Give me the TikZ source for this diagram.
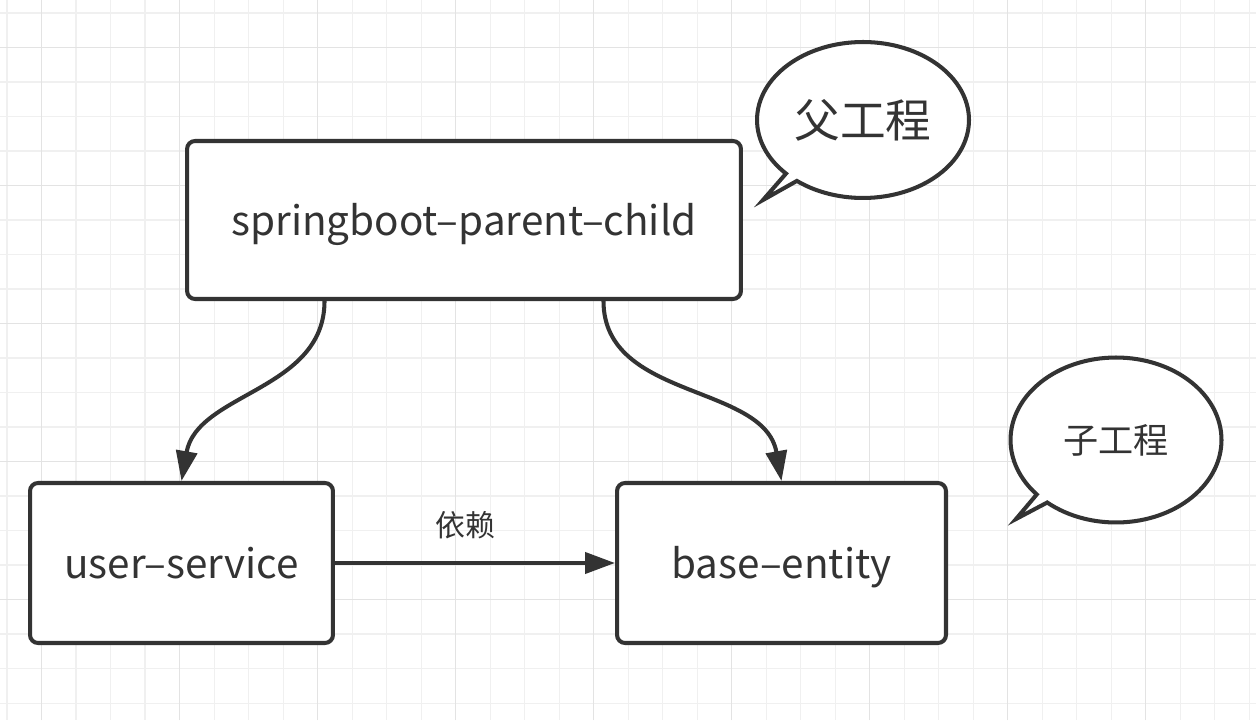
\documentclass[tikz,border=0pt]{standalone}
\usepackage{fontspec}
\setmainfont{Noto Sans CJK SC}
\usetikzlibrary{arrows.meta,shapes.callouts,calc}
\definecolor{ink}{HTML}{333333}
\definecolor{gridminor}{HTML}{F0F0F0}
\definecolor{gridmajor}{HTML}{E3E3E3}

\begin{document}
\begin{tikzpicture}[x=0.02cm,y=0.02cm,
    box/.style={draw=ink,line width=2.3pt,rounded corners=0.16cm,fill=white,text=ink,font=\fontsize{23}{27}\selectfont,inner sep=0pt,text height=21.8pt,text depth=4.6pt},
    conn/.style={draw=ink,line width=2.3pt,-{Triangle[length=0.6cm,width=0.42cm]}},
    bubble/.style={ellipse callout,draw=ink,line width=2.3pt,fill=white,text=ink,callout pointer arc=8,inner sep=0pt}]
    \useasboundingbox(0,0)rectangle(1256,720);
    \fill[white](0,0)rectangle(1256,720);
    % grid
    \foreach \i in {0,...,36}\draw[gridminor,line width=0.8pt](7.2+34.5*\i,0)--(7.2+34.5*\i,720);
    \foreach \i in {0,...,20}\draw[gridminor,line width=0.8pt](0,706.8-34.5*\i)--(1256,706.8-34.5*\i);
    \foreach \i in {0,...,8}\draw[gridmajor,line width=0.8pt](41.7+138*\i,0)--(41.7+138*\i,720);
    \foreach \i in {0,...,4}\draw[gridmajor,line width=0.8pt](0,672.3-138*\i)--(1256,672.3-138*\i);

    \node[box,minimum width=11.08cm,minimum height=3.16cm](pc)at(464,500){springboot–parent–child};
    \node[box,minimum width=6.06cm,minimum height=3.2cm](us)at(181.5,157){user–service};
    \node[box,minimum width=6.58cm,minimum height=3.2cm](be)at(781.5,157){base–entity};

    \node[bubble,minimum width=4.24cm,minimum height=3.12cm,callout absolute pointer={(763,520)},font=\fontsize{26}{30}\selectfont](fgc)at(863,600){父工程};
    \node[bubble,minimum width=4.22cm,minimum height=3.3cm,callout absolute pointer={(1016,201)},font=\fontsize{20}{24}\selectfont](zgc)at(1116,280){子工程};

    \coordinate(pcl)at($(pc.south west)!0.25!(pc.south east)$);
    \coordinate(pcr)at($(pc.south west)!0.75!(pc.south east)$);
    \draw[conn](pcl)to[out=-90,in=80](us.north);
    \draw[conn](pcr)to[out=-90,in=100](be.north);
    \draw[conn](us.east)--node[pos=0.465,yshift=0.76cm,text=ink,font=\fontsize{17}{20}\selectfont](dep){依赖}(be.west);
\end{tikzpicture}
\end{document}
